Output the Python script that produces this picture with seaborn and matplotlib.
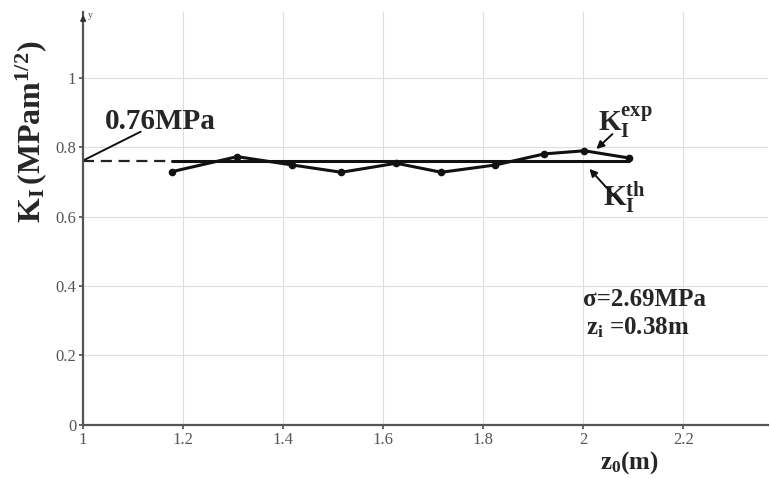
import matplotlib
matplotlib.use("Agg")
import matplotlib.pyplot as plt
import seaborn as sns
import pandas as pd

# data
z0 = [1.178, 1.308, 1.418, 1.516, 1.626, 1.716, 1.824, 1.922, 2.002, 2.092]
k_exp = [0.730, 0.773, 0.749, 0.728, 0.754, 0.728, 0.749, 0.781, 0.790, 0.769]
k_th = 0.76
x_ticks = [1, 1.2, 1.4, 1.6, 1.8, 2, 2.2]
x_tick_labels = ["1", "1.2", "1.4", "1.6", "1.8", "2", "2.2"]
y_ticks = [0, 0.2, 0.4, 0.6, 0.8, 1]
y_tick_labels = ["0", "0.2", "0.4", "0.6", "0.8", "1"]

sns.set_theme(style="white")
plt.rcParams["font.family"] = ["Liberation Serif", "DejaVu Serif"]
plt.rcParams["mathtext.fontset"] = "custom"
plt.rcParams["mathtext.rm"] = "Liberation Serif"
plt.rcParams["mathtext.bf"] = "Liberation Serif:bold"
plt.rcParams["mathtext.it"] = "Liberation Serif:italic"

fig = plt.figure(figsize=(7.7, 4.79), dpi=100)
ax = fig.add_axes([0.108, 0.113, 0.89, 0.862])

df = pd.DataFrame({"z0": z0, "K": k_exp})
sns.lineplot(data=df, x="z0", y="K", ax=ax, color="#111111", lw=2.2,
             marker="o", markersize=5.5, markeredgewidth=0)

# theoretical line
ax.plot([z0[0], z0[-1]], [k_th, k_th], color="#111111", lw=2.2)
ax.plot([1, z0[0]], [k_th, k_th], color="#222222", lw=1.6, ls=(0, (5, 3)))

ax.set_xlim(1, 2.37)
ax.set_ylim(0, 1.19)
ax.set_xticks(x_ticks)
ax.set_xticklabels(x_tick_labels)
ax.set_yticks(y_ticks)
ax.set_yticklabels(y_tick_labels)
ax.tick_params(axis="both", labelsize=12, labelcolor="#555555", length=3,
               color="#555555", direction="out", bottom=True, left=True, pad=2)
ax.grid(True, color="#dddddd", lw=0.8)
for s in ["top", "right"]:
    ax.spines[s].set_visible(False)
for s in ["left", "bottom"]:
    ax.spines[s].set_color("#555555")
    ax.spines[s].set_linewidth(1.6)

# y-axis arrow
ax.annotate("", xy=(0, 1.0), xycoords="axes fraction", xytext=(0, 0.97),
            arrowprops=dict(arrowstyle="-|>", color="#333333", lw=1.2,
                            mutation_scale=8))
ax.text(1.01, 1.18, "y", fontsize=7, color="#555555", va="center")

ax.set_xlabel("")
ax.set_ylabel("")
fig.text(0.040, 0.724, r"$\mathbf{K_I\,(MPam^{1/2})}$", rotation=90,
         fontsize=23, ha="center", va="center")
fig.text(0.818, 0.035, r"$\mathbf{z_0}$" + "(m)", fontsize=18,
         fontweight="bold", ha="center", va="center")

# annotations
ax.text(1.044, 0.875, "0.76MPa", fontsize=21, fontweight="bold",
        ha="left", va="center")
ax.plot([1.0, 1.115], [0.762, 0.845], color="#111111", lw=1.4)

ax.text(2.03, 0.872, r"$\mathbf{K_I^{exp}}$", fontsize=21, ha="left",
        va="center")
ax.annotate("", xy=(2.026, 0.795), xytext=(2.058, 0.838),
            arrowprops=dict(arrowstyle="-|>", color="#111111", lw=1.4,
                            mutation_scale=11, shrinkA=0, shrinkB=0))
ax.text(2.04, 0.655, r"$\mathbf{K_I^{th}}$", fontsize=21, ha="left",
        va="center")
ax.annotate("", xy=(2.012, 0.738), xytext=(2.074, 0.64),
            arrowprops=dict(arrowstyle="-|>", color="#111111", lw=1.4,
                            mutation_scale=11, shrinkA=0, shrinkB=0))

ax.text(2.0, 0.36, "σ=2.69MPa", fontsize=18, fontweight="bold",
        ha="left", va="center")
ax.text(2.005, 0.28, r"$\mathbf{z_i}$" + " =0.38m", fontsize=18,
        fontweight="bold", ha="left", va="center")

fig.savefig("out.png", dpi=100)
